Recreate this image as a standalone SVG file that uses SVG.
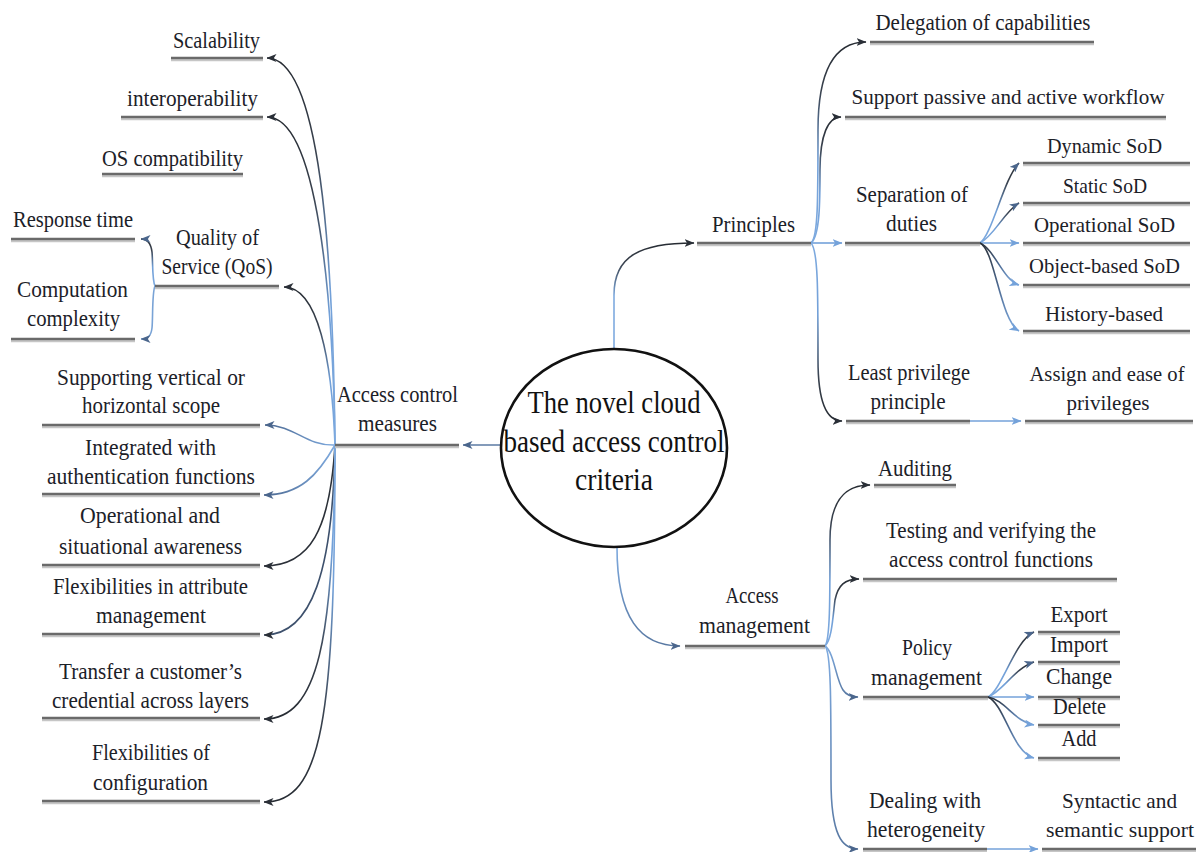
<svg xmlns="http://www.w3.org/2000/svg" width="1201" height="852" viewBox="0 0 1201 852">
<style>
  .t{font-family:"Liberation Serif","Times New Roman",serif;font-size:24px;fill:#1c2128;text-anchor:middle}
  .s{font-size:21px}
  .c{font-family:"Liberation Serif","Times New Roman",serif;font-size:31px;fill:#111;text-anchor:middle}
  .ul{stroke:#6a6a6a;stroke-width:2.6;fill:none;filter:url(#shade)}
  .k{fill:none;stroke-width:1.6}
  .dk{stroke:#2b3038;marker-end:url(#aD)}
  .sl{stroke:#4f6b92;marker-end:url(#aS)}
  .bl{stroke:#74a2da;marker-end:url(#aB)}
</style>
<defs>
  <filter id="shade" filterUnits="userSpaceOnUse" x="0" y="0" width="1201" height="852">
    <feOffset in="SourceAlpha" dy="2.2" result="o"/>
    <feFlood flood-color="#c6c6c6"/>
    <feComposite in2="o" operator="in" result="s"/>
    <feMerge><feMergeNode in="s"/><feMergeNode in="SourceGraphic"/></feMerge>
  </filter>
  <!-- stroke ramps: light blue at the hub end, dark at the arrow end -->
  <linearGradient id="gUp" x1="0" y1="1" x2="0" y2="0">
    <stop offset="0" stop-color="#7eaadf"/><stop offset="0.4" stop-color="#72a0d8"/>
    <stop offset="0.75" stop-color="#3a4350"/><stop offset="1" stop-color="#262b32"/>
  </linearGradient>
  <linearGradient id="gDown" x1="0" y1="0" x2="0" y2="1">
    <stop offset="0" stop-color="#7eaadf"/><stop offset="0.4" stop-color="#72a0d8"/>
    <stop offset="0.75" stop-color="#3a4350"/><stop offset="1" stop-color="#262b32"/>
  </linearGradient>
  <linearGradient id="gRoot" x1="0" y1="1" x2="0" y2="0">
    <stop offset="0" stop-color="#7eaadf"/><stop offset="0.5" stop-color="#7eaadf"/>
    <stop offset="0.8" stop-color="#3a4350"/><stop offset="1" stop-color="#262b32"/>
  </linearGradient>
  <linearGradient id="gDownL" x1="0" y1="0" x2="0" y2="1">
    <stop offset="0" stop-color="#2b3139"/><stop offset="0.5" stop-color="#4d6a92"/><stop offset="1" stop-color="#7eaadf"/>
  </linearGradient>
  <linearGradient id="gH" x1="0" y1="0" x2="1" y2="0">
    <stop offset="0" stop-color="#4c6890"/><stop offset="1" stop-color="#7eaadf"/>
  </linearGradient>
  <linearGradient id="gSl" x1="0" y1="0" x2="0" y2="1">
    <stop offset="0" stop-color="#7eaadf"/><stop offset="1" stop-color="#5878a2"/>
  </linearGradient>
  <marker id="aD" viewBox="0 0 10 8" refX="9.5" refY="4" markerWidth="10" markerHeight="8" markerUnits="userSpaceOnUse" orient="auto">
    <path d="M0,0 L10,4 L0,8 L2.6,4 Z" fill="#2a2f37"/>
  </marker>
  <marker id="aS" viewBox="0 0 10 8" refX="9.5" refY="4" markerWidth="10" markerHeight="8" markerUnits="userSpaceOnUse" orient="auto">
    <path d="M0,0 L10,4 L0,8 L2.6,4 Z" fill="#4b668c"/>
  </marker>
  <marker id="aB" viewBox="0 0 10 8" refX="9.5" refY="4" markerWidth="10" markerHeight="8" markerUnits="userSpaceOnUse" orient="auto">
    <path d="M0,0 L10,4 L0,8 L2.6,4 Z" fill="#74a2da"/>
  </marker>
</defs>

<rect width="1201" height="852" fill="#ffffff"/>

<!-- connectors -->
<g id="connectors">
  <!-- root to first level -->
  <path class="k sl" style="stroke:#5b7aa3" d="M502,445 H463"/>
  <path class="k dk" style="stroke:url(#gRoot)" d="M614,349 L614,295 C614,256 640,243 694,243"/>
  <path class="k sl" style="stroke:url(#gSl)" d="M617,547 C617,618 640,646 680,646"/>

  <!-- access control measures -->
  <path class="k dk" style="stroke:url(#gUp)" d="M335,445 C333,250 320,58 267,58"/>
  <path class="k dk" style="stroke:url(#gUp)" d="M335,445 C333,300 318,117 267,117"/>
  <path class="k dk" style="stroke:url(#gUp)" d="M335,445 C332,360 318,287 284,287"/>
  <path class="k sl" style="stroke:url(#gH)" d="M335,445 C305,446 295,425 265,425"/>
  <path class="k sl" style="stroke:url(#gH)" d="M335,445 C318,475 300,495 264,495"/>
  <path class="k dk" d="M335,445 C330,530 310,566 264,566"/>
  <path class="k dk" style="stroke:#3d506c" d="M335,445 C333,570 312,635 264,635"/>
  <path class="k dk" style="stroke:url(#gDown)" d="M335,445 C334,640 318,719 264,719"/>
  <path class="k dk" style="stroke:url(#gDown)" d="M335,445 C335,720 322,802 264,802"/>
  <!-- quality of service bracket -->
  <path class="k sl" style="stroke:url(#gUp)" d="M155,286 C152,280 153,262 152,252 C151,244 148,239 141,239"/>
  <path class="k sl" style="stroke:#79a3d6" d="M155,286 C152,292 153,318 152,328 C151,336 148,339 141,339"/>

  <!-- principles -->
  <path class="k dk" style="stroke:url(#gUp)" d="M811,243 C818,238 818,200 818,130 C818,70 835,42 866,42"/>
  <path class="k dk" style="stroke:url(#gUp)" d="M811,243 C820,236 820,200 820,170 C820,135 828,117 841,117"/>
  <path class="k bl" d="M811,243 H842"/>
  <path class="k dk" style="stroke:url(#gDown)" d="M811,243 C818,250 818,290 818,360 C818,405 828,421 842,421"/>
  <path class="k bl" d="M970,421 H1021"/>

  <!-- separation of duties -->
  <path class="k sl" style="stroke:url(#gUp)" d="M980,243 C992,235 1004,178 1019,163"/>
  <path class="k sl" style="stroke:url(#gUp)" d="M980,243 C994,236 1004,212 1019,203"/>
  <path class="k bl" d="M980,243 H1019"/>
  <path class="k bl" style="stroke:url(#gDownL)" d="M980,243 C995,250 1003,280 1019,285"/>
  <path class="k bl" style="stroke:url(#gDownL)" d="M980,243 C995,250 1000,320 1019,331"/>

  <!-- access management -->
  <path class="k dk" style="stroke:url(#gUp)" d="M825,646 C830,640 830,600 830,540 C830,500 845,485 870,485"/>
  <path class="k dk" style="stroke:url(#gUp)" d="M825,646 C832,640 833,615 835,600 C838,585 845,579 859,579"/>
  <path class="k sl" style="stroke:url(#gSl)" d="M825,646 C834,652 836,680 843,690 C847,696 852,697 858,697"/>
  <path class="k sl" style="stroke:url(#gSl)" d="M825,646 C831,652 831,700 831,780 C831,835 842,849 858,849"/>
  <path class="k bl" d="M987,849 H1038"/>

  <!-- policy management -->
  <path class="k sl" style="stroke:url(#gUp)" d="M988,697 C1002,690 1015,640 1034,632"/>
  <path class="k sl" style="stroke:url(#gUp)" d="M988,697 C1002,692 1015,668 1034,662"/>
  <path class="k bl" d="M988,697 H1034"/>
  <path class="k bl" style="stroke:url(#gDownL)" d="M988,697 C1005,700 1015,722 1034,725"/>
  <path class="k bl" style="stroke:url(#gDownL)" d="M988,697 C1005,705 1012,752 1034,758"/>
</g>

<!-- root -->
<g id="root">
  <ellipse cx="614" cy="448" rx="113" ry="99" fill="#fff" stroke="#111" stroke-width="2.6"/>
  <text class="c" x="614" y="413" textLength="173" lengthAdjust="spacingAndGlyphs">The novel cloud</text>
  <text class="c" x="614" y="452" textLength="221" lengthAdjust="spacingAndGlyphs">based access control</text>
  <text class="c" x="614" y="490" textLength="78" lengthAdjust="spacingAndGlyphs">criteria</text>
</g>

<!-- left branch -->
<g id="access-control-measures">
  <path class="ul" d="M335,445 H459"/>
  <text class="t" x="397.5" y="402" textLength="121" lengthAdjust="spacingAndGlyphs">Access control</text>
  <text class="t" x="397.5" y="431" textLength="79" lengthAdjust="spacingAndGlyphs">measures</text>
</g>
<g id="scalability">
  <path class="ul" d="M171,58 H263"/>
  <text class="t" x="216.5" y="48" textLength="87" lengthAdjust="spacingAndGlyphs">Scalability</text>
</g>
<g id="interoperability">
  <path class="ul" d="M121,117 H263"/>
  <text class="t" x="192.5" y="106" textLength="131" lengthAdjust="spacingAndGlyphs">interoperability</text>
</g>
<g id="os-compatibility">
  <path class="ul" d="M102,174 H243"/>
  <text class="t" x="172.5" y="166" textLength="141" lengthAdjust="spacingAndGlyphs">OS compatibility</text>
</g>
<g id="response-time">
  <path class="ul" d="M11,239 H135"/>
  <text class="t" x="73" y="227" textLength="120" lengthAdjust="spacingAndGlyphs">Response time</text>
</g>
<g id="qos">
  <path class="ul" d="M155,286 H279"/>
  <text class="t" x="217.5" y="245" textLength="83" lengthAdjust="spacingAndGlyphs">Quality of</text>
  <text class="t" x="217" y="274" textLength="111" lengthAdjust="spacingAndGlyphs">Service (QoS)</text>
</g>
<g id="computation-complexity">
  <path class="ul" d="M11,339 H135"/>
  <text class="t" x="72.5" y="297" textLength="111" lengthAdjust="spacingAndGlyphs">Computation</text>
  <text class="t" x="73.5" y="326" textLength="93" lengthAdjust="spacingAndGlyphs">complexity</text>
</g>
<g id="vertical-horizontal-scope">
  <path class="ul" d="M42,425 H260"/>
  <text class="t" x="151" y="385" textLength="188" lengthAdjust="spacingAndGlyphs">Supporting vertical or</text>
  <text class="t" x="151" y="413" textLength="138" lengthAdjust="spacingAndGlyphs">horizontal scope</text>
</g>
<g id="authentication-functions">
  <path class="ul" d="M42,494 H260"/>
  <text class="t" x="150.5" y="455" textLength="131" lengthAdjust="spacingAndGlyphs">Integrated with</text>
  <text class="t" x="151" y="484" textLength="208" lengthAdjust="spacingAndGlyphs">authentication functions</text>
</g>
<g id="situational-awareness">
  <path class="ul" d="M42,565 H260"/>
  <text class="t" x="150" y="523" textLength="140" lengthAdjust="spacingAndGlyphs">Operational and</text>
  <text class="t" x="150.5" y="554" textLength="183" lengthAdjust="spacingAndGlyphs">situational awareness</text>
</g>
<g id="attribute-management">
  <path class="ul" d="M42,634 H260"/>
  <text class="t" x="150.5" y="594" textLength="195" lengthAdjust="spacingAndGlyphs">Flexibilities in attribute</text>
  <text class="t" x="151" y="623" textLength="110" lengthAdjust="spacingAndGlyphs">management</text>
</g>
<g id="credential-transfer">
  <path class="ul" d="M42,718 H260"/>
  <text class="t" x="150.5" y="679" textLength="183" lengthAdjust="spacingAndGlyphs">Transfer a customer’s</text>
  <text class="t" x="150.5" y="708" textLength="197" lengthAdjust="spacingAndGlyphs">credential across layers</text>
</g>
<g id="configuration">
  <path class="ul" d="M42,801 H260"/>
  <text class="t" x="151" y="760" textLength="118" lengthAdjust="spacingAndGlyphs">Flexibilities of</text>
  <text class="t" x="150.5" y="790" textLength="115" lengthAdjust="spacingAndGlyphs">configuration</text>
</g>

<!-- principles branch -->
<g id="principles">
  <path class="ul" d="M697,243 H811"/>
  <text class="t" x="753.5" y="232" textLength="83" lengthAdjust="spacingAndGlyphs">Principles</text>
</g>
<g id="delegation">
  <path class="ul" d="M870,42 H1094"/>
  <text class="t" x="983" y="30" textLength="215" lengthAdjust="spacingAndGlyphs">Delegation of capabilities</text>
</g>
<g id="workflow">
  <path class="ul" d="M845,117 H1166"/>
  <text class="t s" x="1008" y="104" textLength="313" lengthAdjust="spacingAndGlyphs">Support passive and active workflow</text>
</g>
<g id="separation-of-duties">
  <path class="ul" d="M845,243 H980"/>
  <text class="t" x="912" y="202" textLength="112" lengthAdjust="spacingAndGlyphs">Separation of</text>
  <text class="t" x="911.5" y="231" textLength="51" lengthAdjust="spacingAndGlyphs">duties</text>
</g>
<g id="dynamic-sod">
  <path class="ul" d="M1023,163 H1190"/>
  <text class="t s" x="1104.5" y="153" textLength="115" lengthAdjust="spacingAndGlyphs">Dynamic SoD</text>
</g>
<g id="static-sod">
  <path class="ul" d="M1023,203 H1190"/>
  <text class="t s" x="1105" y="193" textLength="84" lengthAdjust="spacingAndGlyphs">Static SoD</text>
</g>
<g id="operational-sod">
  <path class="ul" d="M1023,243 H1190"/>
  <text class="t s" x="1104.5" y="232" textLength="141" lengthAdjust="spacingAndGlyphs">Operational SoD</text>
</g>
<g id="object-based-sod">
  <path class="ul" d="M1023,285 H1190"/>
  <text class="t s" x="1104.5" y="273" textLength="151" lengthAdjust="spacingAndGlyphs">Object-based SoD</text>
</g>
<g id="history-based">
  <path class="ul" d="M1023,331 H1190"/>
  <text class="t s" x="1104" y="321" textLength="118" lengthAdjust="spacingAndGlyphs">History-based</text>
</g>
<g id="least-privilege">
  <path class="ul" d="M846,421 H970"/>
  <text class="t" x="909" y="380" textLength="122" lengthAdjust="spacingAndGlyphs">Least privilege</text>
  <text class="t" x="908" y="409" textLength="75" lengthAdjust="spacingAndGlyphs">principle</text>
</g>
<g id="assign-privileges">
  <path class="ul" d="M1025,421 H1193"/>
  <text class="t s" x="1107" y="381" textLength="155" lengthAdjust="spacingAndGlyphs">Assign and ease of</text>
  <text class="t s" x="1108" y="410" textLength="83" lengthAdjust="spacingAndGlyphs">privileges</text>
</g>

<!-- access management branch -->
<g id="access-management">
  <path class="ul" d="M685,646 H825"/>
  <text class="t" x="752" y="603" textLength="53" lengthAdjust="spacingAndGlyphs">Access</text>
  <text class="t" x="754.5" y="633" textLength="111" lengthAdjust="spacingAndGlyphs">management</text>
</g>
<g id="auditing">
  <path class="ul" d="M874,485 H956"/>
  <text class="t" x="915" y="476" textLength="74" lengthAdjust="spacingAndGlyphs">Auditing</text>
</g>
<g id="testing">
  <path class="ul" d="M863,579 H1117"/>
  <text class="t" x="991" y="538" textLength="210" lengthAdjust="spacingAndGlyphs">Testing and verifying the</text>
  <text class="t" x="991" y="567" textLength="204" lengthAdjust="spacingAndGlyphs">access control functions</text>
</g>
<g id="policy-management">
  <path class="ul" d="M863,697 H988"/>
  <text class="t" x="927" y="655" textLength="50" lengthAdjust="spacingAndGlyphs">Policy</text>
  <text class="t" x="926.5" y="685" textLength="111" lengthAdjust="spacingAndGlyphs">management</text>
</g>
<g id="export">
  <path class="ul" d="M1038,632 H1120"/>
  <text class="t" x="1079" y="622" textLength="57" lengthAdjust="spacingAndGlyphs">Export</text>
</g>
<g id="import">
  <path class="ul" d="M1038,662 H1120"/>
  <text class="t" x="1079" y="652" textLength="58" lengthAdjust="spacingAndGlyphs">Import</text>
</g>
<g id="change">
  <path class="ul" d="M1038,697 H1120"/>
  <text class="t" x="1079" y="684" textLength="66" lengthAdjust="spacingAndGlyphs">Change</text>
</g>
<g id="delete">
  <path class="ul" d="M1038,725 H1120"/>
  <text class="t" x="1079.5" y="714" textLength="53" lengthAdjust="spacingAndGlyphs">Delete</text>
</g>
<g id="add">
  <path class="ul" d="M1038,758 H1120"/>
  <text class="t" x="1079" y="746" textLength="35" lengthAdjust="spacingAndGlyphs">Add</text>
</g>
<g id="heterogeneity">
  <path class="ul" d="M863,849 H987"/>
  <text class="t" x="925" y="808" textLength="112" lengthAdjust="spacingAndGlyphs">Dealing with</text>
  <text class="t" x="926" y="837" textLength="118" lengthAdjust="spacingAndGlyphs">heterogeneity</text>
</g>
<g id="semantic-support">
  <path class="ul" d="M1042,849 H1196"/>
  <text class="t s" x="1119.5" y="808" textLength="115" lengthAdjust="spacingAndGlyphs">Syntactic and</text>
  <text class="t s" x="1120" y="837" textLength="148" lengthAdjust="spacingAndGlyphs">semantic support</text>
</g>
</svg>
